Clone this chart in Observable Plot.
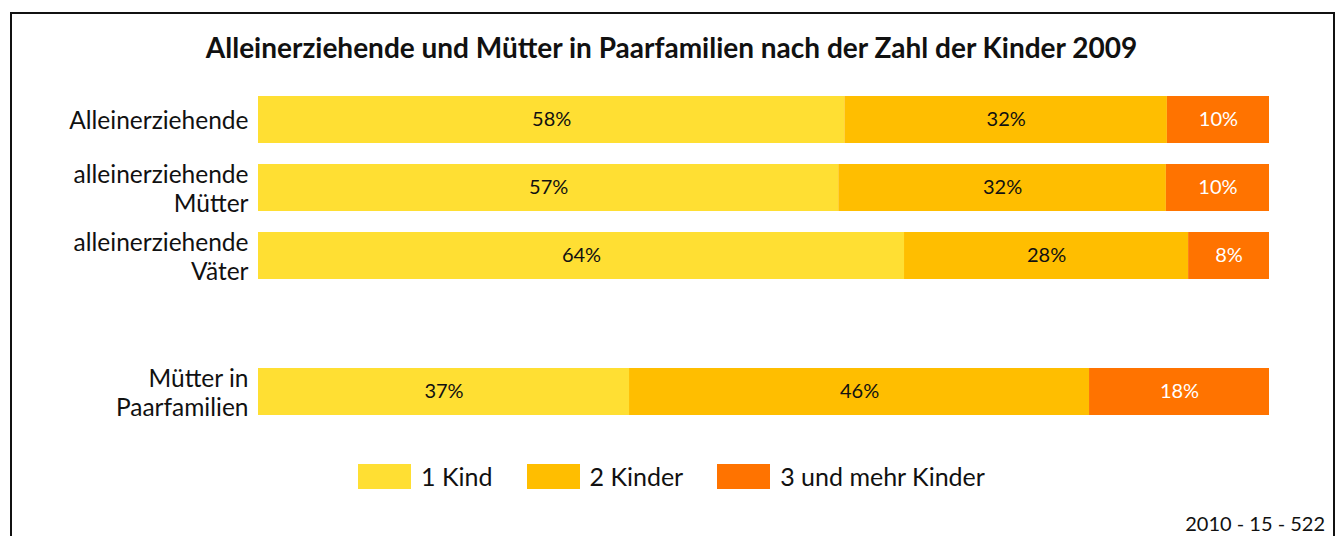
<!DOCTYPE html>
<html>
<head>
<meta charset="utf-8">
<script src="https://cdn.jsdelivr.net/npm/d3@7"></script>
<script src="https://cdn.jsdelivr.net/npm/@observablehq/plot@0.6"></script>
<style>
  html, body { margin: 0; padding: 0; background: #fff; width: 1343px; height: 536px; overflow: hidden; }
  body { font-family: Lato, "Open Sans", sans-serif; color: #111; position: relative; }
  #frame { position: absolute; left: 10px; top: 12px; width: 1325px; height: 600px; border: 2px solid #111; box-sizing: border-box; }
  #title { position: absolute; left: 0; width: 1343px; top: 29px; text-align: center; font-weight: 700; font-size: 28px; line-height: 36px; }
  #chart { position: absolute; left: 0; top: 80px; }
  #legend { position: absolute; left: 0; width: 1343px; top: 462px; display: flex; justify-content: center; align-items: center; font-size: 25px; line-height: 28px; }
  .item { display: flex; align-items: center; margin: 0 17px; }
  .sw { width: 53px; height: 25px; margin-right: 10px; }
  #footer { position: absolute; right: 18px; top: 513px; font-size: 20px; line-height: 20px; }
</style>
</head>
<body>
<div id="frame"></div>
<div id="title">Alleinerziehende und Mütter in Paarfamilien nach der Zahl der Kinder 2009</div>
<div id="chart"></div>
<div id="legend"></div>
<div id="footer">2010 - 15 - 522</div>
<script>
// Categories (blank " " row is the visual gap)
const categories = ["Alleinerziehende", "alleinerziehende Mütter", "alleinerziehende Väter", " ", "Mütter in Paarfamilien"];
const categoryLabels = ["Alleinerziehende", "alleinerziehende\nMütter", "alleinerziehende\nVäter", "", "Mütter in\nPaarfamilien"];
const kinds = ["1 Kind", "2 Kinder", "3 und mehr Kinder"];
const colors = ["#FFDF33", "#FFBE00", "#FF7300"];
// Shares in percent per category
const oneChild    = [58.0, 57.4, 63.9, null, 36.7];
const twoChildren = [31.9, 32.4, 28.1, null, 45.5];
const threePlus   = [10.1, 10.2, 8.0, null, 17.8];

const series = [oneChild, twoChildren, threePlus];
const data = [];
categories.forEach((c, i) => {
  series.forEach((s, k) => {
    if (s[i] != null) data.push({cat: c, kind: kinds[k], value: s[i], label: Math.round(s[i]) + "%"});
  });
});
const labelOf = new Map(categories.map((c, i) => [c, categoryLabels[i]]));

const chart = Plot.plot({
  width: 1343,
  height: 346,
  marginLeft: 258,
  marginRight: 74,
  marginTop: 15,
  marginBottom: 10,
  style: {fontFamily: "Lato, 'Open Sans', sans-serif", background: "transparent", overflow: "visible"},
  x: {domain: [0, 100], axis: null},
  y: {domain: categories, paddingInner: 0.314, paddingOuter: 0, align: 0.5, label: null},
  color: {domain: kinds, range: colors},
  marks: [
    Plot.barX(data, {x: "value", y: "cat", fill: "kind", order: kinds}),
    Plot.text(data, Plot.stackX({
      x: "value", y: "cat", z: "kind", order: kinds, text: "label",
      fill: d => d.kind === kinds[2] ? "#fff" : "#111",
      fontWeight: d => d.kind === kinds[2] ? 600 : 400,
      fontSize: 20
    })),
    Plot.axisY({
      tickSize: 0, tickPadding: 10, fontSize: 24.5, lineHeight: 1.2, label: null,
      tickFormat: c => labelOf.get(c), fill: "#111"
    })
  ]
});
document.getElementById("chart").appendChild(chart);

const legend = document.getElementById("legend");
kinds.forEach((k, i) => {
  const it = document.createElement("div");
  it.className = "item";
  const sw = document.createElement("div");
  sw.className = "sw";
  sw.style.background = colors[i];
  const t = document.createElement("span");
  t.textContent = k;
  it.appendChild(sw); it.appendChild(t);
  legend.appendChild(it);
});
</script>
</body>
</html>
